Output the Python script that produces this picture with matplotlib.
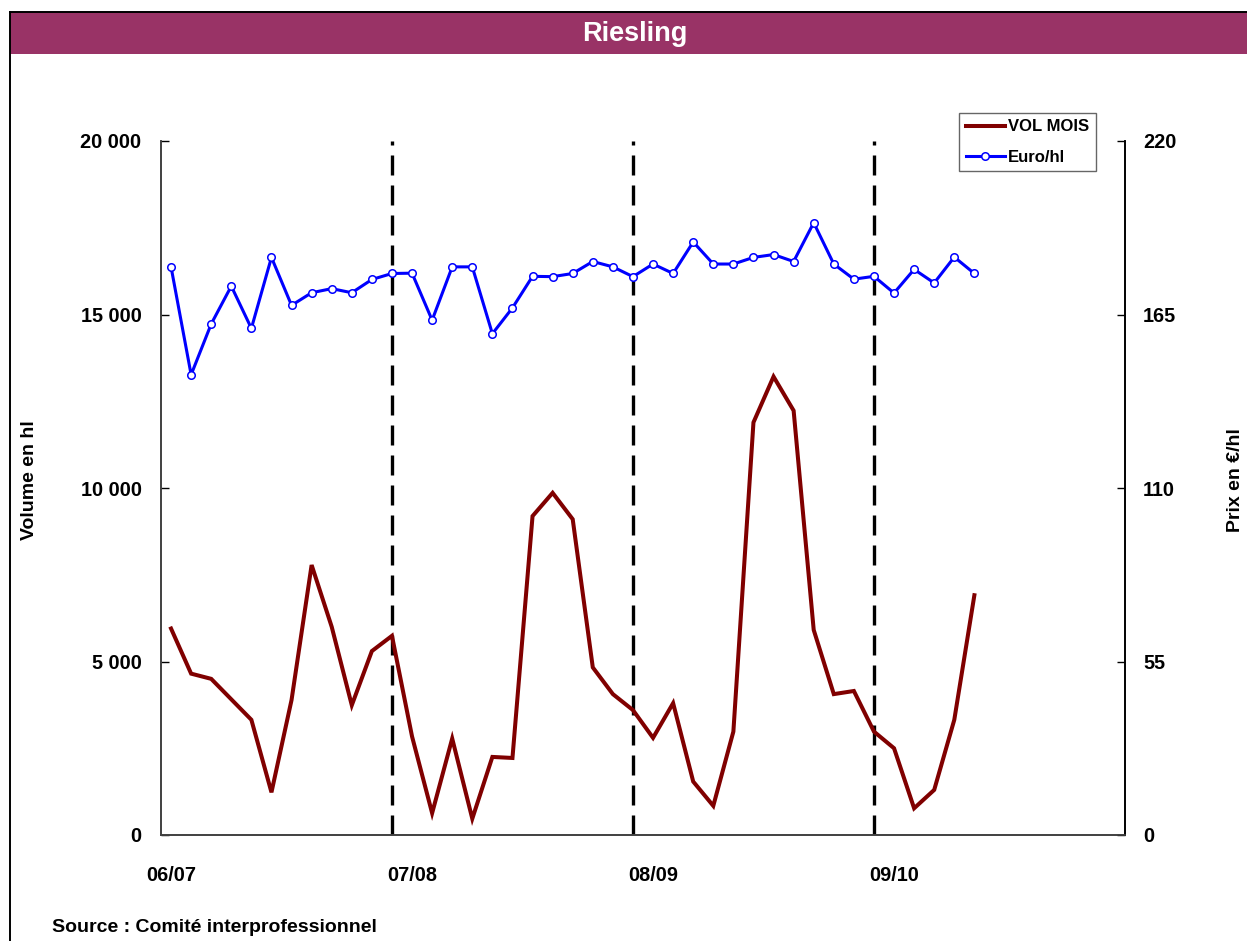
import matplotlib
matplotlib.use("Agg")
import matplotlib.pyplot as plt
from matplotlib.patches import Rectangle
from matplotlib.lines import Line2D
from matplotlib.ticker import FuncFormatter, FixedLocator

plt.rcParams['font.family'] = ['Liberation Sans', 'DejaVu Sans']
plt.rcParams['font.weight'] = 'bold'

# Monthly series, starting with the first month of the 06/07 season
vol_mois = [5950, 4650, 4500, 3910, 3320, 1230, 3890, 7780, 6000, 3740, 5300, 5740,
            2840, 630, 2780, 470, 2250, 2220, 9190, 9860, 9100, 4830, 4060, 3600,
            2800, 3800, 1540, 840, 2980, 11890, 13210, 12230, 5910, 4060, 4150, 2980,
            2500, 770, 1300, 3320, 6910]
euro_hl = [180.1, 145.9, 162.0, 174.0, 160.6, 183.1, 167.9, 171.9, 173.2, 171.9, 176.1, 178.0,
           178.1, 163.2, 180.1, 180.1, 158.9, 167.1, 177.1, 177.0, 178.0, 181.8, 180.1, 177.0,
           181.0, 178.0, 188.0, 181.0, 181.0, 183.1, 184.0, 181.8, 194.1, 181.0, 176.2, 177.1,
           171.8, 179.3, 175.0, 183.2, 178.0]
seasons = ['06/07', '07/08', '08/09', '09/10']
months_per_season = 12
n_categories = 48

W, H = 1247, 941
fig = plt.figure(figsize=(W / 100, H / 100), dpi=100)

# Header bar and frame
fig.patches.append(Rectangle((10 / W, 1 - 54 / H), 1 - 10 / W, 42 / H,
                             transform=fig.transFigure, facecolor='#993366',
                             edgecolor='none', zorder=0))
fig.lines.append(Line2D([10 / W, 10 / W], [0, 1 - 12 / H], transform=fig.transFigure,
                        color='black', lw=1.4))
fig.lines.append(Line2D([10 / W, 1], [1 - 12 / H, 1 - 12 / H], transform=fig.transFigure,
                        color='black', lw=1.4))
fig.text(635 / W, 1 - 34 / H, 'Riesling', color='white', fontsize=19.5,
         fontweight='bold', ha='center', va='center')

ax = fig.add_axes([161 / W, 1 - 835 / H, (1125 - 161) / W, (835 - 141) / H])
ax2 = ax.twinx()

x = list(range(len(vol_mois)))
l1, = ax.plot(x, vol_mois, color='#800000', lw=2.9, solid_joinstyle='miter',
              label='VOL MOIS', zorder=3)
l2, = ax2.plot(x, euro_hl, color='#0000FF', lw=2.2, marker='o', markersize=5.4,
               markerfacecolor='white', markeredgecolor='#0000FF', markeredgewidth=1.1,
               label='Euro/hl', zorder=3)

# Season boundaries
for i in range(1, len(seasons)):
    ax.axvline(i * months_per_season - 1, color='black', lw=2.4,
               linestyle=(0, (6, 3)), zorder=2)

ax.set_xlim(-0.5, n_categories - 0.5)
ax.set_ylim(0, 20000)
ax2.set_ylim(0, 220)

ax.set_yticks([0, 5000, 10000, 15000, 20000])
ax.yaxis.set_major_formatter(FuncFormatter(lambda v, p: f'{int(v):,}'.replace(',', ' ')))
ax2.set_yticks([0, 55, 110, 165, 220])

ax.xaxis.set_major_locator(FixedLocator([i * months_per_season for i in range(len(seasons))]))
ax.set_xticklabels(seasons)

for a in (ax, ax2):
    a.tick_params(axis='y', direction='in', length=6, width=1, labelsize=14.3)
ax.tick_params(axis='y', pad=14)
ax2.tick_params(axis='y', pad=13)
ax.tick_params(axis='x', length=0, pad=22, labelsize=14.3)

for a in (ax, ax2):
    a.spines['top'].set_visible(False)
    a.spines['left'].set_color('#404040')
    a.spines['bottom'].set_color('#404040')
    a.spines['right'].set_color('black')
    a.spines['left'].set_linewidth(1.2)
    a.spines['bottom'].set_linewidth(1.2)
    a.spines['right'].set_linewidth(1.2)
for lab in ax.get_xticklabels() + ax.get_yticklabels() + ax2.get_yticklabels():
    lab.set_fontweight('bold')

fig.text(30 / W, 1 - 480 / H, 'Volume en hl', rotation=90, fontsize=14,
         fontweight='bold', ha='center', va='center')
fig.text(1235 / W, 1 - 480 / H, 'Prix en €/hl', rotation=90, fontsize=14,
         fontweight='bold', ha='center', va='center')
fig.text(52 / W, 1 - 928 / H, 'Source : Comité interprofessionnel', fontsize=14,
         fontweight='bold', ha='left', va='center')

leg = fig.legend([l1, l2], ['VOL MOIS', 'Euro/hl'], loc='upper right',
                 bbox_to_anchor=(1096 / W, 1 - 112.7 / H), borderaxespad=0,
                 fancybox=False, frameon=True, handlelength=2.35,
                 handletextpad=0.2, borderpad=0.4, labelspacing=0.92,
                 prop={'weight': 'bold', 'size': 12})
leg.get_frame().set_edgecolor('#404040')
leg.get_frame().set_linewidth(1.0)

fig.savefig('out.png', dpi=100)
